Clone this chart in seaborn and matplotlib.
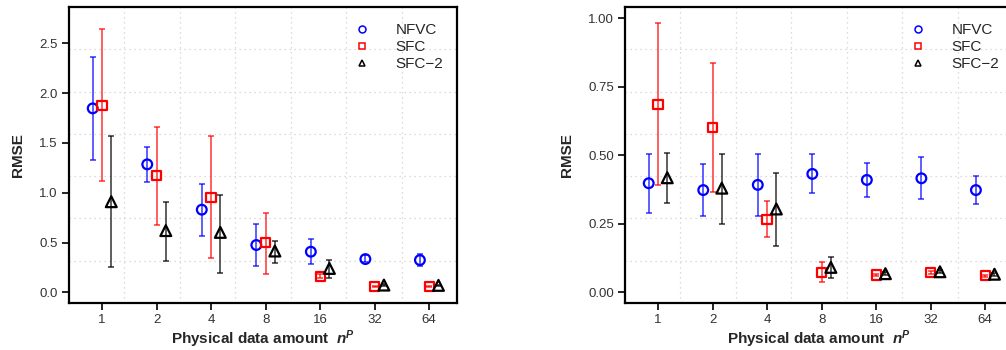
import numpy as np
import pandas as pd
import seaborn as sns
import matplotlib
matplotlib.use("Agg")
import matplotlib.pyplot as plt
from matplotlib.lines import Line2D

# ---------------- data ----------------
categories = ["1", "2", "4", "8", "16", "32", "64"]
methods = ["NFVC", "SFC", "SFC\u22122"]

# left panel
left_nfvc_mean = [1.847, 1.285, 0.830, 0.475, 0.408, 0.334, 0.324]
left_nfvc_lo   = [1.328, 1.110, 0.565, 0.264, 0.284, 0.305, 0.264]
left_nfvc_hi   = [2.366, 1.459, 1.087, 0.689, 0.535, 0.370, 0.385]
left_sfc_mean  = [1.880, 1.170, 0.954, 0.498, 0.160, 0.058, 0.060]
left_sfc_lo    = [1.117, 0.676, 0.341, 0.184, 0.140, 0.050, 0.052]
left_sfc_hi    = [2.644, 1.663, 1.569, 0.800, 0.180, 0.066, 0.068]
left_sfc2_mean = [0.910, 0.620, 0.602, 0.415, 0.240, 0.073, 0.070]
left_sfc2_lo   = [0.257, 0.314, 0.197, 0.297, 0.147, 0.063, 0.062]
left_sfc2_hi   = [1.569, 0.910, 0.977, 0.518, 0.321, 0.083, 0.078]

# right panel
right_nfvc_mean = [0.398, 0.373, 0.392, 0.432, 0.410, 0.416, 0.373]
right_nfvc_lo   = [0.288, 0.280, 0.278, 0.364, 0.347, 0.339, 0.322]
right_nfvc_hi   = [0.506, 0.467, 0.504, 0.505, 0.473, 0.494, 0.426]
right_sfc_mean  = [0.686, 0.601, 0.266, 0.073, 0.063, 0.073, 0.060]
right_sfc_lo    = [0.393, 0.366, 0.200, 0.039, 0.058, 0.068, 0.056]
right_sfc_hi    = [0.982, 0.836, 0.334, 0.110, 0.068, 0.078, 0.064]
right_sfc2_mean = [0.418, 0.380, 0.304, 0.091, 0.068, 0.075, 0.066]
right_sfc2_lo   = [0.326, 0.248, 0.170, 0.051, 0.062, 0.069, 0.061]
right_sfc2_hi   = [0.510, 0.505, 0.434, 0.128, 0.074, 0.081, 0.071]

panels = [
    dict(mean=[left_nfvc_mean, left_sfc_mean, left_sfc2_mean],
         lo=[left_nfvc_lo, left_sfc_lo, left_sfc2_lo],
         hi=[left_nfvc_hi, left_sfc_hi, left_sfc2_hi],
         yticks=[0.0, 0.5, 1.0, 1.5, 2.0, 2.5],
         yfmt="{:.1f}", ylim=(-0.107, 2.865)),
    dict(mean=[right_nfvc_mean, right_sfc_mean, right_sfc2_mean],
         lo=[right_nfvc_lo, right_sfc_lo, right_sfc2_lo],
         hi=[right_nfvc_hi, right_sfc_hi, right_sfc2_hi],
         yticks=[0.0, 0.25, 0.5, 0.75, 1.0],
         yfmt="{:.2f}", ylim=(-0.039, 1.041)),
]

# ---------------- style ----------------
sns.set_theme(style="white")
plt.rcParams['font.family'] = ['Liberation Sans', 'DejaVu Sans']
plt.rcParams['mathtext.fontset'] = 'custom'
plt.rcParams['mathtext.rm'] = 'Liberation Sans'
plt.rcParams['mathtext.it'] = 'Liberation Sans:italic'
plt.rcParams['mathtext.bf'] = 'Liberation Sans:bold'
plt.rcParams['mathtext.bfit'] = 'Liberation Sans:italic:bold'

colors = ["#0000FF", "#FF0000", "#000000"]
markers = ["o", "s", "^"]
offsets = [-0.17, 0.0, 0.17]
msizes = [7.0, 6.6, 7.8]

fig = plt.figure(figsize=(10.06, 3.5), dpi=100)
W, H = 1006, 350
axes_px = [(69, 7, 388, 296), (625, 7, 388, 296)]
xlim = (-0.605, 6.51)

for (px, py, pw, ph), pan in zip(axes_px, panels):
    ax = fig.add_axes([px / W, 1 - (py + ph) / H, pw / W, ph / H])
    ax.set_xlim(*xlim)
    ax.set_ylim(*pan["ylim"])
    # grid: 7 equal cells
    for k in range(1, 7):
        ax.axvline(xlim[0] + k * (xlim[1] - xlim[0]) / 7, color="#d0d0d0",
                   lw=0.9, ls=(0, (1, 3)), zorder=0)
        y0, y1 = pan["ylim"]
        ax.axhline(y0 + k * (y1 - y0) / 7, color="#d0d0d0",
                   lw=0.9, ls=(0, (1, 3)), zorder=0)

    handles = []
    for j in range(3):
        df = pd.DataFrame({
            "x": np.arange(len(categories)) + offsets[j],
            "mean": pan["mean"][j],
            "lo": pan["lo"][j],
            "hi": pan["hi"][j],
        })
        yerr = np.vstack([df["mean"] - df["lo"], df["hi"] - df["mean"]])
        ax.errorbar(df["x"], df["mean"], yerr=yerr, fmt="none",
                    ecolor=colors[j], elinewidth=1.1, capsize=2.2,
                    capthick=1.1, alpha=0.8, zorder=2)
        sns.scatterplot(data=df, x="x", y="mean", ax=ax, marker=markers[j],
                        s=msizes[j] ** 2, facecolor="none",
                        edgecolor=colors[j], linewidth=1.6, zorder=3,
                        legend=False)
        handles.append(Line2D([], [], ls="none", marker=markers[j],
                              mfc="none", mec=colors[j], mew=1.1,
                              ms=5.0, label=methods[j]))

    ax.set_xticks(range(len(categories)))
    ax.set_xticklabels(categories)
    ax.set_yticks(pan["yticks"])
    ax.set_yticklabels([pan["yfmt"].format(v) for v in pan["yticks"]])
    ax.tick_params(axis="both", direction="out", length=5, width=1.2,
                   color="black", labelsize=9.5, labelcolor="#333333",
                   pad=3, left=True, bottom=True)
    for s in ax.spines.values():
        s.set_visible(True)
        s.set_color("black")
        s.set_linewidth(1.6)
    ax.set_xlabel(r"Physical data amount  $\mathbfit{n}^{\mathbfit{P}}$",
                  fontsize=11, fontweight="bold", labelpad=2)
    ax.set_ylabel("RMSE", fontsize=11, fontweight="bold", labelpad=10)
    ax.legend(handles=handles, loc="upper left",
              bbox_to_anchor=(0.7356, 0.946), frameon=False,
              borderaxespad=0, borderpad=0, handlelength=1.0,
              handletextpad=1.7, labelspacing=0.2, fontsize=11)

fig.savefig("out.png", dpi=100)
